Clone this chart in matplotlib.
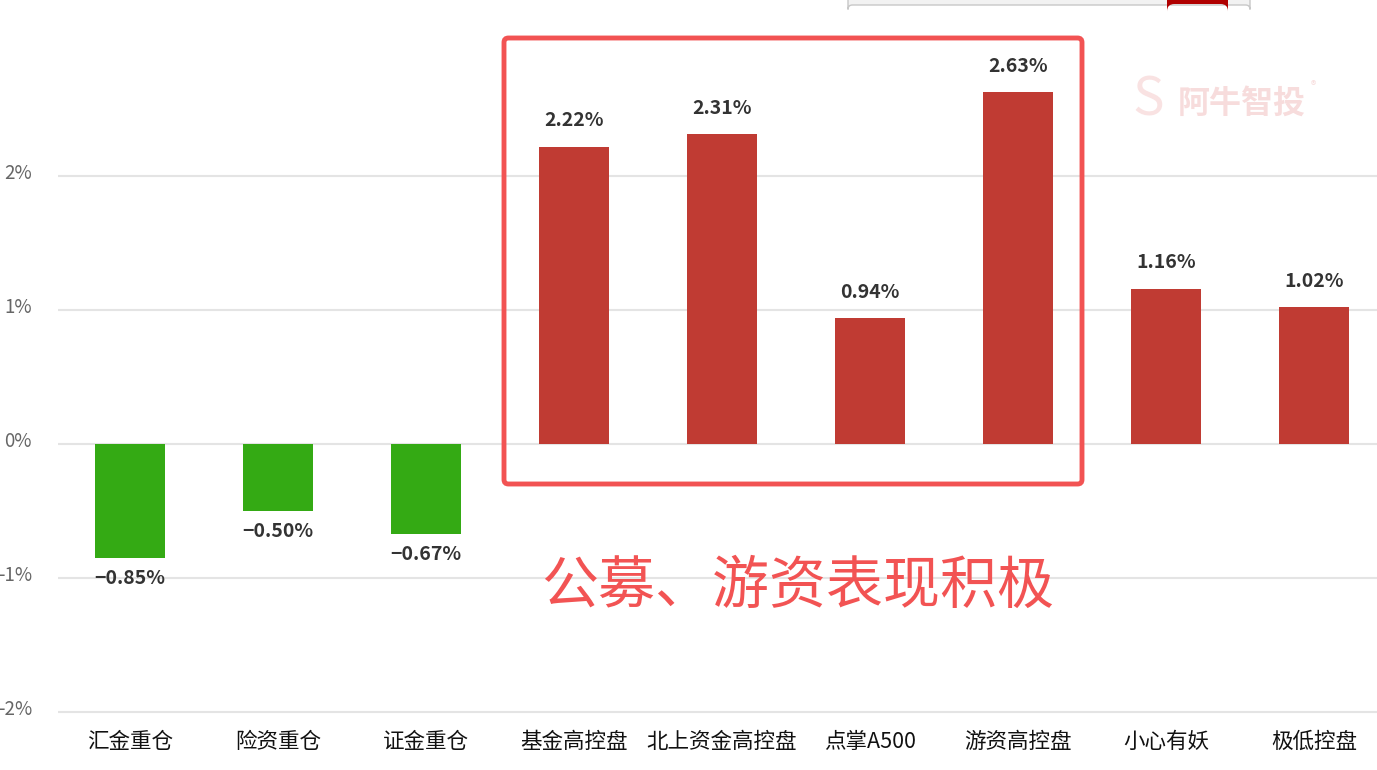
import numpy as np
import matplotlib.pyplot as plt
from matplotlib.patches import FancyBboxPatch

plt.rcParams['font.family'] = ['Noto Sans CJK SC', 'DejaVu Sans']
plt.rcParams['axes.unicode_minus'] = False

# ===================== Data =====================
categories = ['汇金重仓', '险资重仓', '证金重仓', '基金高控盘', '北上资金高控盘',
              '点掌A500', '游资高控盘', '小心有妖', '极低控盘']
values = [-0.85, -0.50, -0.67, 2.22, 2.31, 0.94, 2.63, 1.16, 1.02]
yticks = [-2, -1, 0, 1, 2]

RED = '#C03B33'
GREEN = '#34AA14'
HILITE = '#F25353'

W, H = 1377, 770
fig = plt.figure(figsize=(W / 100, H / 100), dpi=100)
ax = fig.add_axes([0, 0, 1, 1])

# pixel layout: first bar centre at 130 px, pitch 148 px; 0% at 443 px, 134 px per 1%
x0, pitch = 130, 148
y0, ppu = 444, 134
ax.set_xlim(-x0 / pitch, (W - x0) / pitch)
ax.set_ylim(-(H - y0) / ppu, y0 / ppu)
ax.axis('off')


def px(xp, yp):
    return (xp - x0) / pitch, (y0 - yp) / ppu


# grid lines + y tick labels
grid_left = (58 - x0) / pitch
for t in yticks:
    ax.hlines(t, grid_left, ax.get_xlim()[1], color='#E4E4E4', lw=1.5, zorder=0)
    ax.text(px(32, 0)[0], t + 0.02, f'{t}%', ha='right', va='center',
            fontsize=13.5, color='#666666')

x = np.arange(len(categories))
colors = [RED if v >= 0 else GREEN for v in values]
ax.bar(x, values, width=70 / pitch, color=colors, zorder=2)

# value labels
for xi, v in zip(x, values):
    if v >= 0:
        ax.text(xi, v + 0.12, f'{v:.2f}%', ha='center', va='bottom',
                fontsize=14, fontweight='semibold', color='#333333')
    else:
        ax.text(xi, v - 0.08, f'{v:.2f}%'.replace('-', '\u2212'), ha='center', va='top',
                fontsize=14, fontweight='semibold', color='#333333')

# category labels
for xi, c in zip(x, categories):
    ax.text(xi, px(0, 742)[1], c, ha='center', va='center', fontsize=15.5, color='#111111')

# highlight box
bx0, by0 = px(504, 484)
bx1, by1 = px(1082, 38)
ax.add_patch(FancyBboxPatch((bx0, by0), bx1 - bx0, by1 - by0,
                            boxstyle='round,pad=0,rounding_size=0.03',
                            fill=False, ec=HILITE, lw=3.5, zorder=5,
                            mutation_aspect=pitch / ppu))

tx, ty = px(798, 587)
ax.text(tx, ty, '公募、游资表现积极', ha='center', va='center',
        fontsize=41, color=HILITE, zorder=5)

# watermark
wx, wy = px(1242, 104)
ax.text(wx, wy, '阿牛智投', ha='center', va='center', fontsize=23,
        fontweight='bold', color='#F7DCDC', zorder=1)
sx, sy = px(1148, 100)
ax.text(sx, sy, 'S', ha='center', va='center', fontsize=38, fontstyle='italic',
        color='#F9E2E2', zorder=1)
rx, ry = px(1313, 86)
ax.text(rx, ry, '®', ha='center', va='center', fontsize=8, color='#F7DCDC', zorder=1)

# top search box remnant
cx0, cy0 = px(848, 5)
cx1, cy1 = px(1250, -10)
ax.add_patch(FancyBboxPatch((cx0, cy1), cx1 - cx0, cy0 - cy1,
                            boxstyle='round,pad=0,rounding_size=0.03',
                            fc='#F2F2F2', ec='#C8C8C8', lw=1, zorder=6,
                            mutation_aspect=pitch / ppu, clip_on=True))
kx0, ky0 = px(1167, 4)
kx1, ky1 = px(1228, -10)
ax.add_patch(FancyBboxPatch((kx0, ky1), kx1 - kx0, ky0 - ky1,
                            boxstyle='round,pad=0,rounding_size=0.05',
                            fc='#B00000', ec='none', zorder=7,
                            mutation_aspect=pitch / ppu, clip_on=True))

fig.savefig('out.png', dpi=100, facecolor='white')
